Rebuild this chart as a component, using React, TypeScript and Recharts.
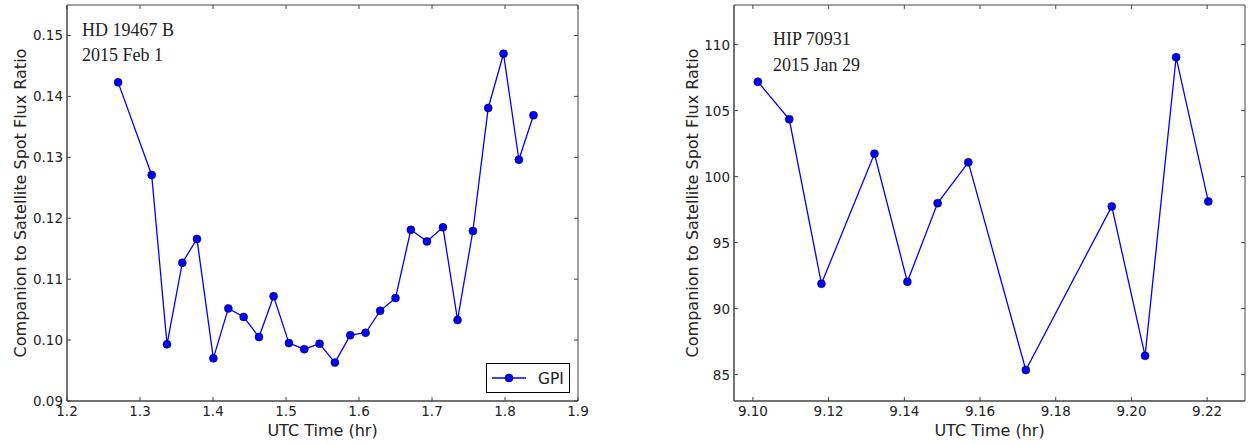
import React from "react";
import { LineChart, Line, XAxis, YAxis, Legend, ReferenceArea } from "recharts";

// HD 19467 B, 2015 Feb 1
const hdTime = [
  1.27, 1.316, 1.337, 1.358, 1.378, 1.4005, 1.421, 1.442, 1.463, 1.483, 1.504,
  1.525, 1.546, 1.567, 1.588, 1.609, 1.629, 1.65, 1.671, 1.693, 1.715, 1.735,
  1.756, 1.777, 1.798, 1.819, 1.839,
];
const hdFlux = [
  0.1423, 0.1271, 0.0993, 0.1127, 0.1166, 0.097, 0.1052, 0.1038, 0.1005,
  0.1072, 0.0995, 0.0985, 0.0994, 0.0963, 0.1008, 0.1012, 0.1048, 0.1069,
  0.1181, 0.1162, 0.1185, 0.1033, 0.1179, 0.1381, 0.147, 0.1296, 0.1369,
];
const hdXTicks = [1.2, 1.3, 1.4, 1.5, 1.6, 1.7, 1.8, 1.9];
const hdYTicks = [0.09, 0.1, 0.11, 0.12, 0.13, 0.14, 0.15];

// HIP 70931, 2015 Jan 29
const hipTime = [
  9.1013, 9.1096, 9.1181, 9.1321, 9.1408, 9.1488, 9.1569, 9.1721, 9.1948,
  9.2036, 9.2118, 9.2203,
];
const hipFlux = [
  107.19, 104.34, 91.88, 101.73, 92.03, 97.99, 101.08, 85.35, 97.74, 86.42,
  109.04, 98.12,
];
const hipXTicks = [9.1, 9.12, 9.14, 9.16, 9.18, 9.2, 9.22];
const hipYTicks = [85, 90, 95, 100, 105, 110];

const seriesName = "GPI";
const yLabel = "Companion to Satellite Spot Flux Ratio";
const xLabel = "UTC Time (hr)";

const hdData = hdTime.map((t, i) => ({ t, v: hdFlux[i] }));
const hipData = hipTime.map((t, i) => ({ t, v: hipFlux[i] }));

const BLUE = "#0000ff";
const AXIS = "#444";
const TEXT = "#222";
const SANS = "'DejaVu Sans', sans-serif";
const SERIF = "'Liberation Serif', 'DejaVu Serif', serif";

const PLOT_TOP = 5;
const PLOT_BOTTOM = 401;
const TICK_LEN = 4;

function YLabel({ viewBox, dx }: any) {
  const cx = viewBox.x + dx;
  const cy = viewBox.y + viewBox.height / 2;
  return (
    <text
      x={cx}
      y={cy}
      transform={`rotate(-90 ${cx} ${cy})`}
      textAnchor="middle"
      dominantBaseline="central"
      fontSize={16}
      fontFamily={SANS}
      fill={TEXT}
    >
      {yLabel}
    </text>
  );
}

function XLabel({ viewBox }: any) {
  return (
    <text
      x={viewBox.x + viewBox.width / 2}
      y={436}
      textAnchor="middle"
      fontSize={16}
      fontFamily={SANS}
      fill={TEXT}
    >
      {xLabel}
    </text>
  );
}

// x tick: label under the axis, inward marks at bottom and top
function makeXTick(fmt: (v: number) => string) {
  return function XTick({ x, payload }: any) {
    return (
      <g>
        <line x1={x} y1={PLOT_BOTTOM} x2={x} y2={PLOT_BOTTOM - TICK_LEN} stroke={AXIS} />
        <line x1={x} y1={PLOT_TOP} x2={x} y2={PLOT_TOP + TICK_LEN} stroke={AXIS} />
        <text x={x} y={416} textAnchor="middle" fontSize={13.5} fontFamily={SANS} fill={TEXT}>
          {fmt(payload.value)}
        </text>
      </g>
    );
  };
}

// y tick: label left of the axis, inward marks at left and right
function makeYTick(fmt: (v: number) => string, right: number) {
  return function YTick({ x, y, payload }: any) {
    return (
      <g>
        <line x1={x} y1={y} x2={x + TICK_LEN} y2={y} stroke={AXIS} />
        <line x1={right - TICK_LEN} y1={y} x2={right} y2={y} stroke={AXIS} />
        <text
          x={x - 4}
          y={y}
          textAnchor="end"
          dominantBaseline="central"
          fontSize={13.5}
          fontFamily={SANS}
          fill={TEXT}
        >
          {fmt(payload.value)}
        </text>
      </g>
    );
  };
}

function GpiLegend() {
  return (
    <div
      style={{
        width: 84,
        height: 30,
        border: "1px solid #000",
        boxSizing: "border-box",
        background: "#fff",
        position: "relative",
      }}
    >
      <svg width={82} height={28} style={{ position: "absolute", left: 0, top: 0 }}>
        <line x1={5} y1={14} x2={39} y2={14} stroke={BLUE} strokeWidth={1.3} />
        <circle cx={22} cy={14} r={4} fill={BLUE} stroke="#000" strokeWidth={0.5} />
        <text x={51} y={19.5} fontSize={15.5} fontFamily={SANS} fill={TEXT}>
          {seriesName}
        </text>
      </svg>
    </div>
  );
}

type PanelProps = {
  data: { t: number; v: number }[];
  width: number;
  yAxisWidth: number;
  marginRight: number;
  xDomain: [number, number];
  yDomain: [number, number];
  xTicks: number[];
  yTicks: number[];
  xFmt: (v: number) => string;
  yFmt: (v: number) => string;
  yLabelDx: number;
  legend?: boolean;
};

function Panel(p: PanelProps) {
  const plotRight = p.width - p.marginRight;
  const XTick = makeXTick(p.xFmt);
  const YTick = makeYTick(p.yFmt, plotRight);
  return (
    <LineChart
      width={p.width}
      height={444}
      data={p.data}
      margin={{ top: PLOT_TOP, right: p.marginRight, bottom: 0, left: 0 }}
    >
      <ReferenceArea
        x1={p.xDomain[0]}
        x2={p.xDomain[1]}
        y1={p.yDomain[0]}
        y2={p.yDomain[1]}
        fill="none"
        fillOpacity={0}
        stroke={AXIS}
        strokeWidth={1}
        ifOverflow="visible"
      />
      <XAxis
        dataKey="t"
        type="number"
        domain={p.xDomain}
        ticks={p.xTicks}
        allowDataOverflow
        height={444 - PLOT_BOTTOM}
        stroke={AXIS}
        tickLine={false}
        tickSize={0}
        tickMargin={0}
        tick={<XTick />}
        interval={0}
        label={{ content: (props: any) => <XLabel {...props} /> }}
      />
      <YAxis
        type="number"
        domain={p.yDomain}
        ticks={p.yTicks}
        allowDataOverflow
        width={p.yAxisWidth}
        stroke={AXIS}
        tickLine={false}
        tickSize={0}
        tickMargin={0}
        tick={<YTick />}
        interval={0}
        label={{ content: (props: any) => <YLabel {...props} dx={p.yLabelDx} /> }}
      />
      {p.legend && (
        <Legend
          layout="horizontal"
          verticalAlign="middle"
          align="center"
          content={() => <GpiLegend />}
          wrapperStyle={{ position: "absolute", left: 486, top: 363, width: 84, height: 30 }}
        />
      )}
      <Line
        type="linear"
        dataKey="v"
        name={seriesName}
        stroke={BLUE}
        strokeWidth={1.3}
        dot={{ r: 4, fill: BLUE, stroke: "#000", strokeWidth: 0.5 }}
        activeDot={false}
        isAnimationActive={false}
      />
    </LineChart>
  );
}

export default function App() {
  return (
    <div
      style={{
        position: "absolute",
        left: 0,
        top: 0,
        width: 1250,
        height: 444,
        background: "#fff",
        overflow: "hidden",
      }}
    >
      <div style={{ position: "absolute", left: 0, top: 0 }}>
        <Panel
          data={hdData}
          width={630}
          yAxisWidth={67}
          marginRight={52}
          xDomain={[1.2, 1.9]}
          yDomain={[0.09, 0.155]}
          xTicks={hdXTicks}
          yTicks={hdYTicks}
          xFmt={(v) => v.toFixed(1)}
          yFmt={(v) => v.toFixed(2)}
          yLabelDx={20}
          legend
        />
      </div>
      <div style={{ position: "absolute", left: 630, top: 0 }}>
        <Panel
          data={hipData}
          width={620}
          yAxisWidth={104}
          marginRight={5}
          xDomain={[9.095, 9.23]}
          yDomain={[83, 113]}
          xTicks={hipXTicks}
          yTicks={hipYTicks}
          xFmt={(v) => v.toFixed(2)}
          yFmt={(v) => String(v)}
          yLabelDx={62}
        />
      </div>
      <svg
        width={1250}
        height={444}
        style={{ position: "absolute", left: 0, top: 0, pointerEvents: "none" }}
        fontFamily={SERIF}
        fontSize={18}
        fill={TEXT}
      >
        <text x={82} y={36}>HD 19467 B</text>
        <text x={82} y={61}>2015 Feb 1</text>
        <text x={773} y={45}>HIP 70931</text>
        <text x={773} y={71}>2015 Jan 29</text>
      </svg>
    </div>
  );
}
